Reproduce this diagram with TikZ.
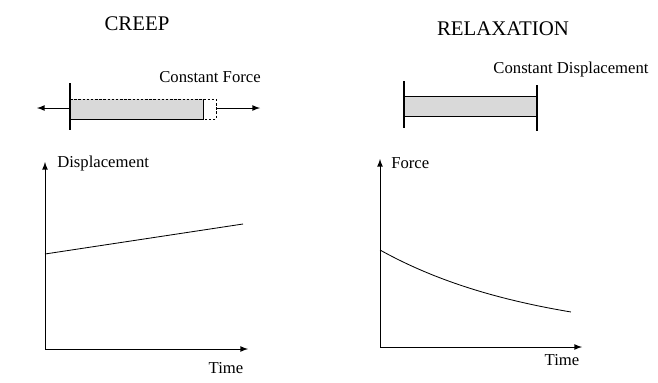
\documentclass[tikz,border=0pt]{standalone}
\usepackage{fontspec}
\setmainfont{Liberation Serif}
\usetikzlibrary{positioning,arrows}
\definecolor{barfill}{RGB}{217,217,217}

\begin{document}
\begin{tikzpicture}[
	x=0.6pt, y=-0.6pt,
	>=latex,
	wall/.style={line width=1.3pt},
	axis/.style={->, line width=0.6pt},
	curve/.style={line width=0.5pt},
	lbl/.style={inner sep=0pt, font=\fontsize{10}{12}\selectfont},
	ttl/.style={inner sep=0pt, font=\fontsize{12.5}{15}\selectfont}]
	\useasboundingbox (0,0) rectangle (658,382);
	% titles
	\node[ttl] (creep) at (137,24) {CREEP};
	\node[ttl] (relax) at (503,29) {RELAXATION};
	% creep bar
	\node[lbl] (cforce) at (210,77) {Constant Force};
	\coordinate (cleft) at (70,108);
	\coordinate (cright) at (216,108);
	\coordinate (lfree) at (37,108);
	\coordinate (rfree) at (260,108);
	\fill[barfill] (70,99) rectangle (203,119);
	\draw[line width=0.5pt, dash pattern=on 1.5pt off 1pt] (70,99) -- (216,99) -- (216,119) -- (203,119);
	\draw[line width=0.6pt] (70,119) -- (203,119) -- (203,99);
	\draw[wall] (70,83) -- (70,130);
	\draw[->, line width=0.6pt] (cleft) -- (lfree);
	\draw[->, line width=0.6pt] (cright) -- (rfree);
	% relaxation bar
	\node[lbl] (cdisp) at (571,69) {Constant Displacement};
	\draw[fill=barfill, line width=0.6pt] (404,96) rectangle (537,116);
	\draw[wall] (404,81) -- (404,128);
	\draw[wall] (537,85) -- (537,131);
	% creep graph
	\coordinate (o1) at (45,349);
	\coordinate (y1) at (45,162);
	\coordinate (x1) at (248,349);
	\draw[axis] (o1) -- (y1);
	\draw[axis] (o1) -- (x1);
	\node[lbl, anchor=west] (disp) at (57,163) {Displacement};
	\node[lbl] (time1) at (226,368) {Time};
	\draw[curve] (45,254) -- (243,224);
	% relaxation graph
	\coordinate (o2) at (380,347);
	\coordinate (y2) at (380,159);
	\coordinate (x2) at (582,347);
	\draw[axis] (o2) -- (y2);
	\draw[axis] (o2) -- (x2);
	\node[lbl, anchor=west] (force) at (391,163) {Force};
	\node[lbl] (time2) at (562,360) {Time};
	\draw[curve, domain=0:1, samples=40] plot ({380+191*\x},{250+62*(1-exp(-1.2*\x))/0.699});
\end{tikzpicture}
\end{document}
